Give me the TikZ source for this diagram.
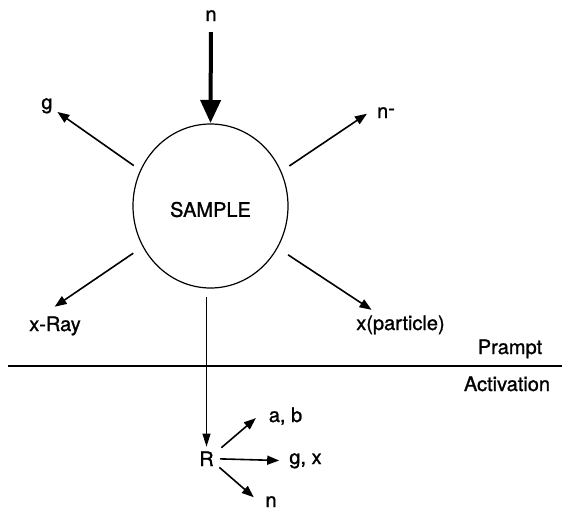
\documentclass[tikz,border=0pt]{standalone}
\usepackage{fontspec}
\setmainfont{TeX Gyre Heros}[FakeBold=1.2]
\usetikzlibrary{arrows.meta,shapes.geometric}

\begin{document}
\begin{tikzpicture}[x=1pt, y=-1pt, font=\fontsize{20}{24}\selectfont,
    lbl/.style={inner sep=0pt, anchor=base},
    ray/.style={line width=1.6pt, -{Triangle[length=12pt,width=9pt]}}]
  \useasboundingbox (0,0) rectangle (571,514);
  % sample and the prompt emissions
  \node[ellipse, draw, line width=1.2pt, minimum width=155pt, minimum height=164pt,
        inner sep=0pt, outer sep=0pt, text height=22pt] (sample) at (210.5,206) {SAMPLE};
  \node[lbl] (nin) at (211,21) {n};
  \node[lbl] (g) at (47,109) {g};
  \node[lbl] (nm) at (386,118) {n\raisebox{3pt}{-}};
  \node[lbl] (xray) at (55,331) {x-Ray};
  \node[lbl] (xpart) at (400.5,330) {x(particle)};
  \node[lbl] (prompt) at (510,354) {Prampt};
  \node[lbl] (act) at (507,391) {Activation};
  % activation products
  \node[lbl] (R) at (206.5,466) {R};
  \node[lbl] (ab) at (285.5,422) {a, b};
  \node[lbl] (gx) at (305.5,464) {g, x};
  \node[lbl] (nout) at (271,507) {n};

  \draw[line width=4pt, -{Triangle[length=23pt,width=20pt]}, shorten <=11pt, shorten >=1pt]
    (nin.south) -- (sample.north);
  \foreach \a/\t/\s/\e in {153/g.-27/8.4/5.6, 26/nm.north west/10.2/12,
                           211/xray.146/11.9/16.9, -32/xpart.155/13/9.8}
    \draw[ray, shorten <=\s pt, shorten >=\e pt] (sample.\a) -- (\t);

  \draw[line width=1.8pt] (8,366) -- (562,366);
  \draw[line width=1pt, -{Triangle[length=13pt,width=8pt]}, shorten <=9pt, shorten >=4.6pt]
    (sample.south -| R) -- (R.north);
  \draw[ray, shorten <=9.8pt, shorten >=16.8pt] (R.32) -- (ab.north west);
  \draw[ray, shorten <=6.3pt, shorten >=10pt] (R.east) -- (gx.west);
  \draw[ray, shorten <=7.2pt, shorten >=15.2pt] (R.-28) -- (nout.south west);
\end{tikzpicture}
\end{document}
